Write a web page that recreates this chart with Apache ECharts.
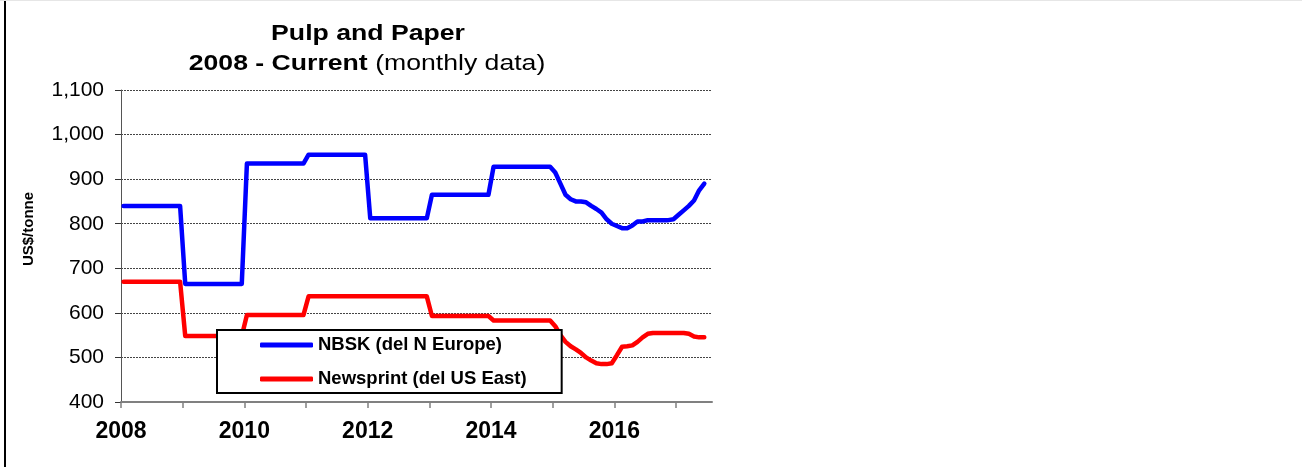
<!DOCTYPE html>
<html>
<head>
<meta charset="utf-8">
<script src="https://cdn.jsdelivr.net/npm/echarts@6/dist/echarts.min.js"></script>
<style>
html,body{margin:0;padding:0;background:#fff;}
#chart{width:1302px;height:467px;}
</style>
</head>
<body>
<div id="chart"></div>
<script>
// ---- data (monthly, Jan 2008 .. Jun 2017) ----
const startYear = 2008;
const yearTicks = [2008, 2009, 2010, 2011, 2012, 2013, 2014, 2015, 2016, 2017];
const yearLabels = [2008, 2010, 2012, 2014, 2016];
const seriesNames = ['NBSK (del N Europe)', 'Newsprint (del US East)'];
const titleLine1 = 'Pulp and Paper';
const titleLine2Bold = '2008 - Current';
const titleLine2Rest = '(monthly data)';
const yAxisTitle = 'US$/tonne';

const nbsk = [
  840,840,840,840,840,840,840,840,840,840,840,840,   // 2008
  665,665,665,665,665,665,665,665,665,665,665,665,   // 2009
  935,935,935,935,935,935,935,935,935,935,935,935,   // 2010
  955,955,955,955,955,955,955,955,955,955,955,955,   // 2011
  812,812,812,812,812,812,812,812,812,812,812,812,   // 2012
  865,865,865,865,865,865,865,865,865,865,865,865,   // 2013
  928,928,928,928,928,928,928,928,928,928,928,928,   // 2014
  915,890,865,855,850,850,848,840,833,825,810,800,   // 2015
  795,790,790,796,805,805,808,808,808,808,808,810,   // 2016
  820,830,840,852,875,890                            // 2017
];
const newsprint = [
  670,670,670,670,670,670,670,670,670,670,670,670,   // 2008
  548,548,548,548,548,548,548,548,548,548,548,548,   // 2009
  595,595,595,595,595,595,595,595,595,595,595,595,   // 2010
  637,637,637,637,637,637,637,637,637,637,637,637,   // 2011
  637,637,637,637,637,637,637,637,637,637,637,637,   // 2012
  593,593,593,593,593,593,593,593,593,593,593,593,   // 2013
  583,583,583,583,583,583,583,583,583,583,583,583,   // 2014
  570,550,535,525,518,510,500,493,487,485,485,487,   // 2015
  505,524,525,527,535,545,553,555,555,555,555,555,   // 2016
  555,555,553,547,545,545                            // 2017
];
const monthsOnAxis = 115; // the axis spans 115 monthly slots

// month i is drawn in the middle of its slot
function toPairs(arr) { return arr.map((v, i) => [startYear + (i + 0.5) / 12, v]); }

const FONT = 'Arial, "Liberation Sans", sans-serif';
const chart = echarts.init(document.getElementById('chart'), null, {renderer: 'canvas'});

chart.setOption({
  animation: false,
  backgroundColor: '#ffffff',
  legend: {
    left: 217,
    top: 330,
    orient: 'vertical',
    backgroundColor: '#ffffff',
    borderColor: '#000000',
    borderWidth: 2,
    borderRadius: 0,
    padding: [5, 35, 4, 43],
    itemWidth: 53,
    itemHeight: 5,
    itemGap: 14,
    icon: 'roundRect',
    textStyle: {fontFamily: FONT, fontWeight: 'bold', fontSize: 18.5, color: '#000', lineHeight: 20},
    data: seriesNames
  },
  grid: {left: 121, top: 90, right: 590, bottom: 65, containLabel: false},
  xAxis: {
    type: 'value',
    min: startYear,
    max: startYear + monthsOnAxis / 12,
    splitLine: {show: false},
    axisLine: {show: true, lineStyle: {color: '#808080', width: 2}},
    axisTick: {show: true, customValues: yearTicks, length: 6, inside: false, lineStyle: {color: '#808080', width: 1.5}},
    axisLabel: {
      customValues: yearLabels,
      margin: 18,
      fontFamily: FONT, fontWeight: 'bold', fontSize: 23, color: '#000',
      formatter: v => String(Math.round(v))
    }
  },
  yAxis: {
    type: 'value',
    min: 400, max: 1100, interval: 100,
    axisLine: {show: true, lineStyle: {color: '#555', width: 1}},
    axisTick: {show: true, length: 6, inside: false, lineStyle: {color: '#333', width: 1}},
    splitLine: {show: true, lineStyle: {color: '#444', width: 1, type: [2, 1]}},
    axisLabel: {
      margin: 17,
      fontFamily: FONT, fontSize: 21, color: '#000',
      formatter: v => v.toLocaleString('en-US')
    }
  },
  series: [
    {
      name: seriesNames[0], type: 'line', data: toPairs(nbsk),
      symbol: 'none', smooth: false,
      lineStyle: {color: '#0000ff', width: 4.5, cap: 'round', join: 'round'},
      itemStyle: {color: '#0000ff'}, z: 3
    },
    {
      name: seriesNames[1], type: 'line', data: toPairs(newsprint),
      symbol: 'none', smooth: false,
      lineStyle: {color: '#ff0000', width: 4.5, cap: 'round', join: 'round'},
      itemStyle: {color: '#ff0000'}, z: 3
    }
  ],
  graphic: [
    {type: 'rect', left: 4, top: 0, shape: {width: 2, height: 467}, style: {fill: '#000'}, silent: true},
    {type: 'rect', left: 0, top: 0, shape: {width: 1302, height: 1}, style: {fill: '#e6e6e6'}, silent: true},
    {
      type: 'text', x: 368, y: 34, scaleX: 1.21, silent: true,
      style: {text: titleLine1, font: 'bold 22px ' + FONT, fill: '#000', align: 'center', verticalAlign: 'middle'}
    },
    {
      type: 'text', x: 367, y: 63.5, scaleX: 1.21, silent: true,
      style: {
        text: '{b|' + titleLine2Bold + '} {r|' + titleLine2Rest + '}',
        align: 'center', verticalAlign: 'middle', fill: '#000', font: '22px ' + FONT,
        rich: {
          b: {fontFamily: FONT, fontWeight: 'bold', fontSize: 22, fill: '#000'},
          r: {fontFamily: FONT, fontWeight: 'normal', fontSize: 22, fill: '#000'}
        }
      }
    },
    {
      type: 'text', x: 29, y: 229, rotation: Math.PI / 2, silent: true,
      style: {text: yAxisTitle, font: 'bold 15px ' + FONT, fill: '#000', align: 'center', verticalAlign: 'middle'}
    }
  ]
});
</script>
</body>
</html>
